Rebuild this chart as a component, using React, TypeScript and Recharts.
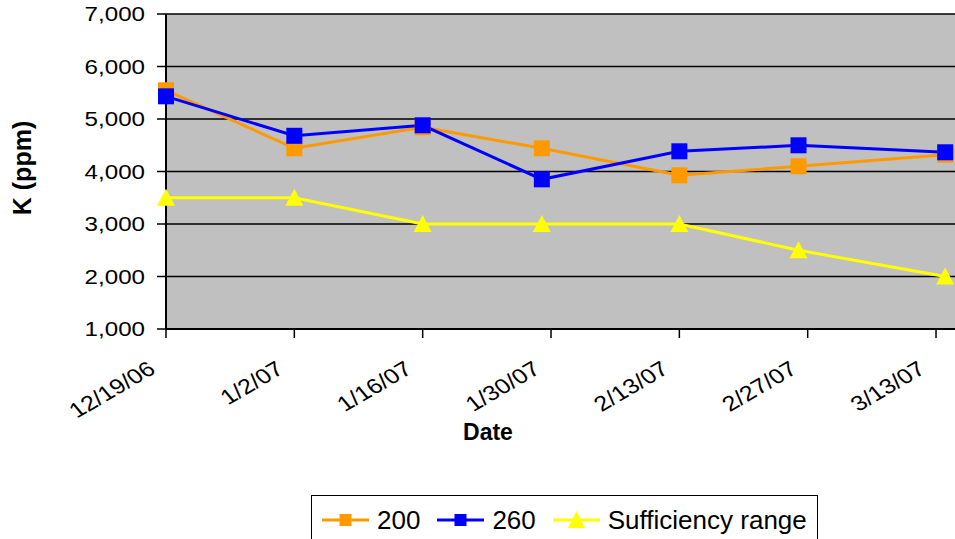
import React from "react";
import {
  LineChart,
  Line,
  XAxis,
  YAxis,
  CartesianGrid,
  Legend,
  Label,
} from "recharts";

// sampling dates (m/d/yy) and values
const sampleDates = ["12/19/06", "1/2/07", "1/16/07", "1/29/07", "2/13/07", "2/26/07", "3/14/07"];
const k200 = [5547, 4442, 4842, 4442, 3928, 4099, 4320];
const k260 = [5432, 4680, 4880, 3851, 4385, 4499, 4366];
const sufficiency = [3500, 3500, 3000, 3000, 3000, 2500, 2000];

const tickDates = ["12/19/06", "1/2/07", "1/16/07", "1/30/07", "2/13/07", "2/27/07", "3/13/07"];
const yTicks = [1000, 2000, 3000, 4000, 5000, 6000, 7000];

const FONT = "'Liberation Sans', Arial, sans-serif";

const toTime = (s: string) => {
  const [m, d, y] = s.split("/").map(Number);
  return Date.UTC(2000 + y, m - 1, d);
};
const t0 = toTime(tickDates[0]);
const dayOf = (s: string) => (toTime(s) - t0) / 86400000;

const rows = sampleDates.map((d, i) => ({
  day: dayOf(d),
  k200: k200[i],
  k260: k260[i],
  suff: sufficiency[i],
}));
const xTicks = tickDates.map(dayOf);
const labelFor = (v: number) => tickDates[xTicks.indexOf(v)] ?? "";

const fmt = (v: number) => v.toLocaleString("en-US");

const YTick = ({ x, y, payload }: any) => (
  <g transform={`translate(${x},${y})`}>
    <text x={0} y={0} dy={7} textAnchor="end" fontSize={21} fontFamily={FONT} fill="#000" transform="scale(1.15,1)">
      {fmt(payload.value)}
    </text>
  </g>
);

const XTick = ({ x, y, payload }: any) => (
  <g transform={`translate(${x - 9},${y + 32})`}>
    <text x={0} y={0} textAnchor="end" fontSize={21} fontFamily={FONT} fill="#000" transform="scale(1.2,1) rotate(-35)">
      {labelFor(payload.value)}
    </text>
  </g>
);

const Square = (color: string) => (p: any) => {
  if (p.cx == null || p.cy == null) return <g key={p.key} />;
  return <rect key={p.key} x={p.cx - 8} y={p.cy - 8} width={16} height={16} fill={color} />;
};

const Triangle = (color: string) => (p: any) => {
  if (p.cx == null || p.cy == null) return <g key={p.key} />;
  const { cx, cy } = p;
  return <path key={p.key} d={`M${cx},${cy - 9}L${cx + 9},${cy + 8}L${cx - 9},${cy + 8}Z`} fill={color} />;
};

const legendIcon = (key: string, color: string) => (
  <svg width={47} height={20} style={{ display: "block", flex: "none" }}>
    <line x1={0} y1={10} x2={47} y2={10} stroke={color} strokeWidth={3} />
    {key === "suff" ? (
      <path d="M23.5,1L32,18L15,18Z" fill={color} />
    ) : (
      <rect x={17.5} y={4} width={12} height={12} fill={color} />
    )}
  </svg>
);

const renderLegend = (props: any) => (
  <div style={{ display: "flex", alignItems: "center", paddingLeft: 10, paddingTop: 11, whiteSpace: "nowrap" }}>
    {(props.payload || []).map((e: any) => (
      <div key={e.dataKey} style={{ display: "flex", alignItems: "center", marginRight: 17, flex: "none" }}>
        {legendIcon(e.dataKey, e.color)}
        <span style={{ marginLeft: 8, fontSize: 26, fontFamily: FONT, color: "#000", lineHeight: "26px" }}>
          {e.value}
        </span>
      </div>
    ))}
  </div>
);

export default function App() {
  return (
    <div style={{ position: "absolute", left: 0, top: 0 }}>
      <LineChart width={955} height={539} data={rows} margin={{ top: 14, right: 0, left: 0, bottom: 0 }}>
        <CartesianGrid horizontal vertical={false} stroke="#000" strokeWidth={1.5} fill="#C0C0C0" />
        <XAxis
          dataKey="day"
          type="number"
          domain={[0, 86.07]}
          ticks={xTicks}
          interval={0}
          height={210}
          tickSize={9}
          tickMargin={2}
          tick={<XTick />}
          stroke="#000"
          strokeWidth={2}
          tickLine={{ stroke: "#000", strokeWidth: 1.5 }}
        >
          <Label
            content={() => (
              <text x={488} y={440} textAnchor="middle" fontSize={23} fontWeight="bold" fontFamily={FONT} fill="#000">
                Date
              </text>
            )}
          />
        </XAxis>
        <YAxis
          type="number"
          domain={[1000, 7000]}
          ticks={yTicks}
          interval={0}
          width={166}
          tickSize={9}
          tickMargin={12}
          tick={<YTick />}
          stroke="#000"
          strokeWidth={2}
          tickLine={{ stroke: "#000", strokeWidth: 1.5 }}
        >
          <Label
            content={() => (
              <text
                x={31}
                y={168}
                textAnchor="middle"
                fontSize={25}
                fontWeight="bold"
                fontFamily={FONT}
                fill="#000"
                transform="rotate(-90,31,168)"
              >
                K (ppm)
              </text>
            )}
          />
        </YAxis>
        <Legend
          layout="horizontal"
          verticalAlign="middle"
          align="center"
          content={renderLegend}
          wrapperStyle={{
            left: 311,
            top: 495,
            width: 507,
            height: 60,
            border: "1px solid #000",
            boxSizing: "border-box",
            background: "#fff",
          }}
        />
        <Line dataKey="k200" name="200" stroke="#FF9900" strokeWidth={3} dot={Square("#FF9900")} isAnimationActive={false} />
        <Line dataKey="k260" name="260" stroke="#0000FF" strokeWidth={3} dot={Square("#0000FF")} isAnimationActive={false} />
        <Line
          dataKey="suff"
          name="Sufficiency range"
          stroke="#FFFF00"
          strokeWidth={3}
          dot={Triangle("#FFFF00")}
          isAnimationActive={false}
        />
      </LineChart>
    </div>
  );
}
